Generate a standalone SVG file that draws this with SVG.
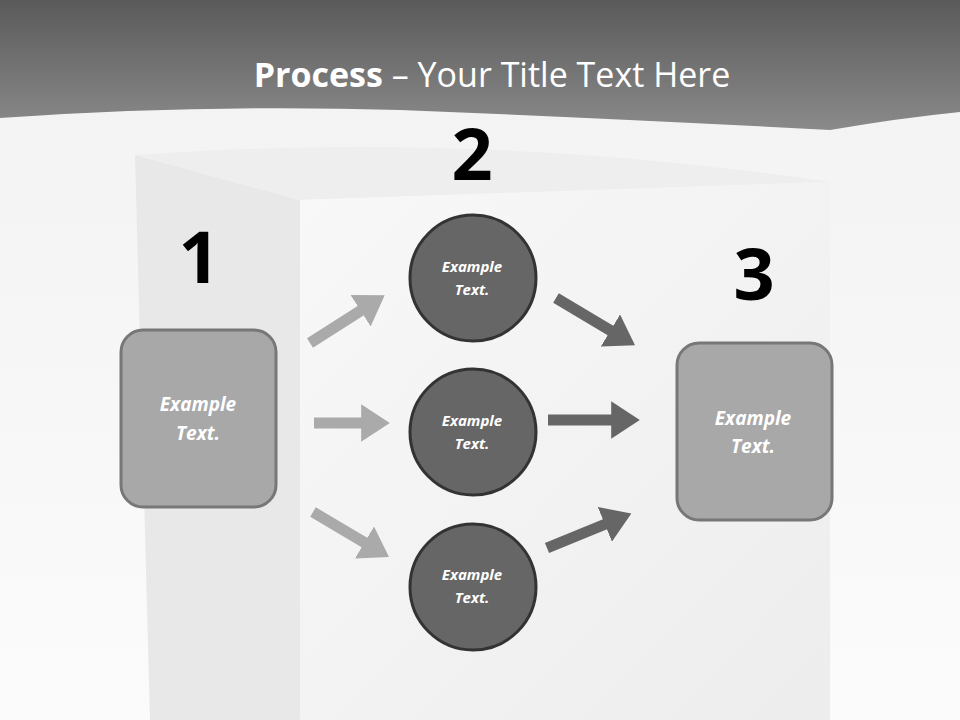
<svg xmlns="http://www.w3.org/2000/svg" width="960" height="720" viewBox="0 0 960 720">
<defs>
<linearGradient id="hd" x1="0" y1="0" x2="0" y2="1"><stop offset="0" stop-color="#5a5a5a"/><stop offset="1" stop-color="#8a8a8a"/></linearGradient>
<linearGradient id="bg" x1="0" y1="0" x2="0" y2="1"><stop offset="0" stop-color="#f2f2f2"/><stop offset="1" stop-color="#fbfbfb"/></linearGradient>
<linearGradient id="fr" x1="0" y1="0" x2="1" y2="1"><stop offset="0" stop-color="#f8f8f8"/><stop offset="1" stop-color="#ededed"/></linearGradient>
<marker id="al" markerWidth="3" markerHeight="3.4" refX="0.8" refY="1.7" orient="auto" markerUnits="strokeWidth"><path d="M0,0 L2.6,1.7 L0,3.4 z" fill="#aaaaaa"/></marker>
<marker id="ad" markerWidth="3" markerHeight="3.4" refX="0.8" refY="1.7" orient="auto" markerUnits="strokeWidth"><path d="M0,0 L2.6,1.7 L0,3.4 z" fill="#666666"/></marker>
</defs>
<style>
.num{font-family:"Open Sans","Liberation Sans",sans-serif;font-weight:bold;font-size:72px;fill:#000;text-anchor:middle}
.t{font-family:"Open Sans","Liberation Sans",sans-serif;font-weight:bold;font-style:italic;fill:#fff;text-anchor:middle}
.c{fill:#666;stroke:#333;stroke-width:3}
.r{fill:#a8a8a8;stroke:#777;stroke-width:3}
.la{stroke:#aaaaaa;stroke-width:11;fill:none;marker-end:url(#al)}
.da{stroke:#666666;stroke-width:11;fill:none;marker-end:url(#ad)}
</style>
<rect width="960" height="720" fill="url(#bg)"/>
<path d="M135,155 L300,200 L300,720 L150,720 Z" fill="#e8e8e8"/>
<path d="M135,155 Q480,130 830,182 L300,200 Z" fill="#eeeeee"/>
<path d="M300,200 L830,182 L830,720 L300,720 Z" fill="url(#fr)"/>
<path d="M0,0 H960 V112 Q900,118 830,130 Q600,118 400,110 Q200,104 0,118 Z" fill="url(#hd)"/>
<text x="492" y="87" font-family="'Open Sans','Liberation Sans',sans-serif" font-size="34" fill="#fff" text-anchor="middle"><tspan font-weight="bold">Process</tspan> – Your Title Text Here</text>
<g id="connectors">
<line class="la" x1="310" y1="343" x2="368" y2="306"/>
<line class="la" x1="314" y1="423" x2="370" y2="423"/>
<line class="la" x1="313" y1="512" x2="372" y2="547"/>
<line class="da" x1="556" y1="298" x2="618" y2="335"/>
<line class="da" x1="548" y1="420" x2="620" y2="420"/>
<line class="da" x1="547" y1="548" x2="613" y2="521"/>
</g>
<g id="n1"><text class="num" x="199" y="283">1</text><rect class="r" x="121" y="330" width="155" height="177" rx="22"/><text class="t" x="198" y="411" font-size="19">Example</text><text class="t" x="198" y="440" font-size="19">Text.</text></g>
<g id="n2"><text class="num" x="472" y="180">2</text></g>
<g id="c1"><circle class="c" cx="473" cy="278" r="63"/><text class="t" x="472" y="272" font-size="15">Example</text><text class="t" x="472" y="295" font-size="15">Text.</text></g>
<g id="c2"><circle class="c" cx="473" cy="432" r="63"/><text class="t" x="472" y="426" font-size="15">Example</text><text class="t" x="472" y="449" font-size="15">Text.</text></g>
<g id="c3"><circle class="c" cx="473" cy="587" r="63"/><text class="t" x="472" y="580" font-size="15">Example</text><text class="t" x="472" y="603" font-size="15">Text.</text></g>
<g id="n3"><text class="num" x="754" y="300">3</text><rect class="r" x="677" y="343" width="155" height="177" rx="22"/><text class="t" x="753" y="425" font-size="19">Example</text><text class="t" x="753" y="453" font-size="19">Text.</text></g>
</svg>
